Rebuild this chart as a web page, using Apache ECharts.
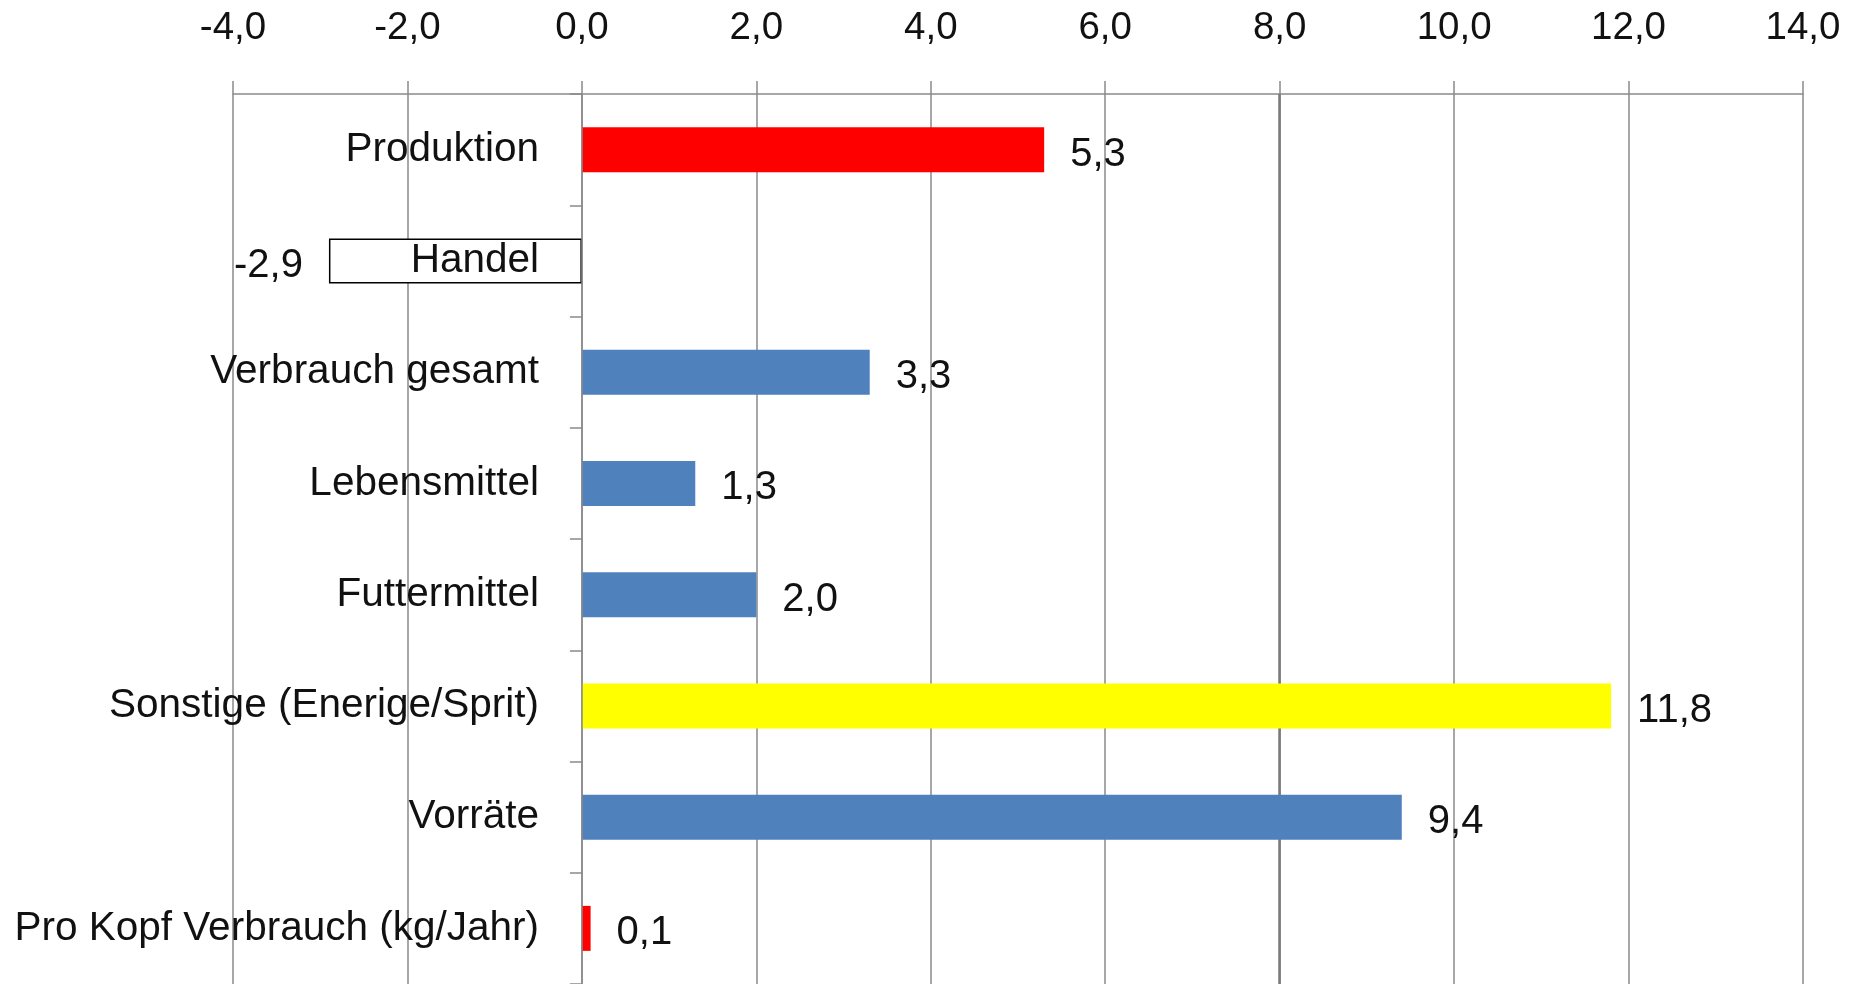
<!DOCTYPE html>
<html>
<head>
<meta charset="utf-8">
<script src="https://cdn.jsdelivr.net/npm/echarts@6/dist/echarts.min.js"></script>
<style>
  html, body { margin: 0; padding: 0; background: #fff; }
  #barChart { width: 1856px; height: 984px; }
</style>
</head>
<body>
<div id="barChart"></div>
<script>
// Kategorien und Werte (Veränderung in %)
var categories = ['Produktion', 'Handel', 'Verbrauch gesamt', 'Lebensmittel', 'Futtermittel',
	'Sonstige (Enerige/Sprit)', 'Vorräte', 'Pro Kopf Verbrauch (kg/Jahr)'];
var values = [5.3, -2.9, 3.3, 1.3, 2.0, 11.8, 9.4, 0.1];
var axisMin = -4;
var axisMax = 14;
var axisStep = 2;

// Farben je Balken
var barColors = ['#ff0000', '#ffffff', '#4f81bd', '#4f81bd', '#4f81bd', '#ffff00', '#4f81bd', '#ff0000'];

var fmt = function(v) {
	return v.toFixed(1).replace('.', ',');
};
var fontFamily = 'Liberation Sans, Arial, sans-serif';

var getOption = function() {
	var seriesData = values.map(function(v, i) {
		var item = {
			value: v,
			itemStyle: { color: barColors[i] },
			label: { position: v < 0 ? 'left' : 'right' }
		};
		if (barColors[i] === '#ffffff') {
			item.itemStyle.borderColor = '#000';
			item.itemStyle.borderWidth = 1.5;
		}
		return item;
	});
	return {
		animation: false,
		grid: {
			left: 233,
			right: 53,
			top: 94,
			bottom: 0,
			containLabel: false,
			outerBoundsMode: 'none'
		},
		xAxis: {
			type: 'value',
			position: 'top',
			min: axisMin,
			max: axisMax,
			interval: axisStep,
			axisLine: { show: true, lineStyle: { color: '#8a8a8a', width: 1.5 } },
			axisTick: { show: true, length: 13, lineStyle: { color: '#8a8a8a', width: 1.5 } },
			splitLine: { show: true, lineStyle: { color: '#8a8a8a', width: 1.5 } },
			axisLabel: {
				margin: 46,
				fontFamily: fontFamily,
				fontSize: 38.5,
				color: '#111',
				formatter: fmt
			}
		},
		yAxis: {
			type: 'category',
			data: categories,
			inverse: true,
			z: 5,
			axisLine: { show: true, onZero: true, lineStyle: { color: '#8a8a8a', width: 1.5 } },
			axisTick: { show: true, length: 12, lineStyle: { color: '#8a8a8a', width: 1.5 } },
			axisLabel: {
				// Beschriftung rechtsbündig kurz vor der Nulllinie
				margin: -306,
				padding: [8, 0, 0, 0],
				fontFamily: fontFamily,
				fontSize: 40.5,
				color: '#111'
			}
		},
		series: [{
			type: 'bar',
			barWidth: 45,
			data: seriesData,
			label: {
				show: true,
				distance: 26,
				offset: [0, 5],
				fontFamily: fontFamily,
				fontSize: 40,
				color: '#111',
				formatter: function(p) { return fmt(p.value); }
			},
			markLine: {
				silent: true,
				z: 1,
				symbol: 'none',
				label: { show: false },
				lineStyle: { color: '#7a7a7a', width: 2.5, type: 'solid' },
				data: [{ xAxis: 8 }]
			}
		}]
	};
};
var byId = function(id) {
	return document.getElementById(id);
};
var barChart = echarts.init(byId('barChart'));
barChart.setOption(getOption());
</script>
</body>
</html>
